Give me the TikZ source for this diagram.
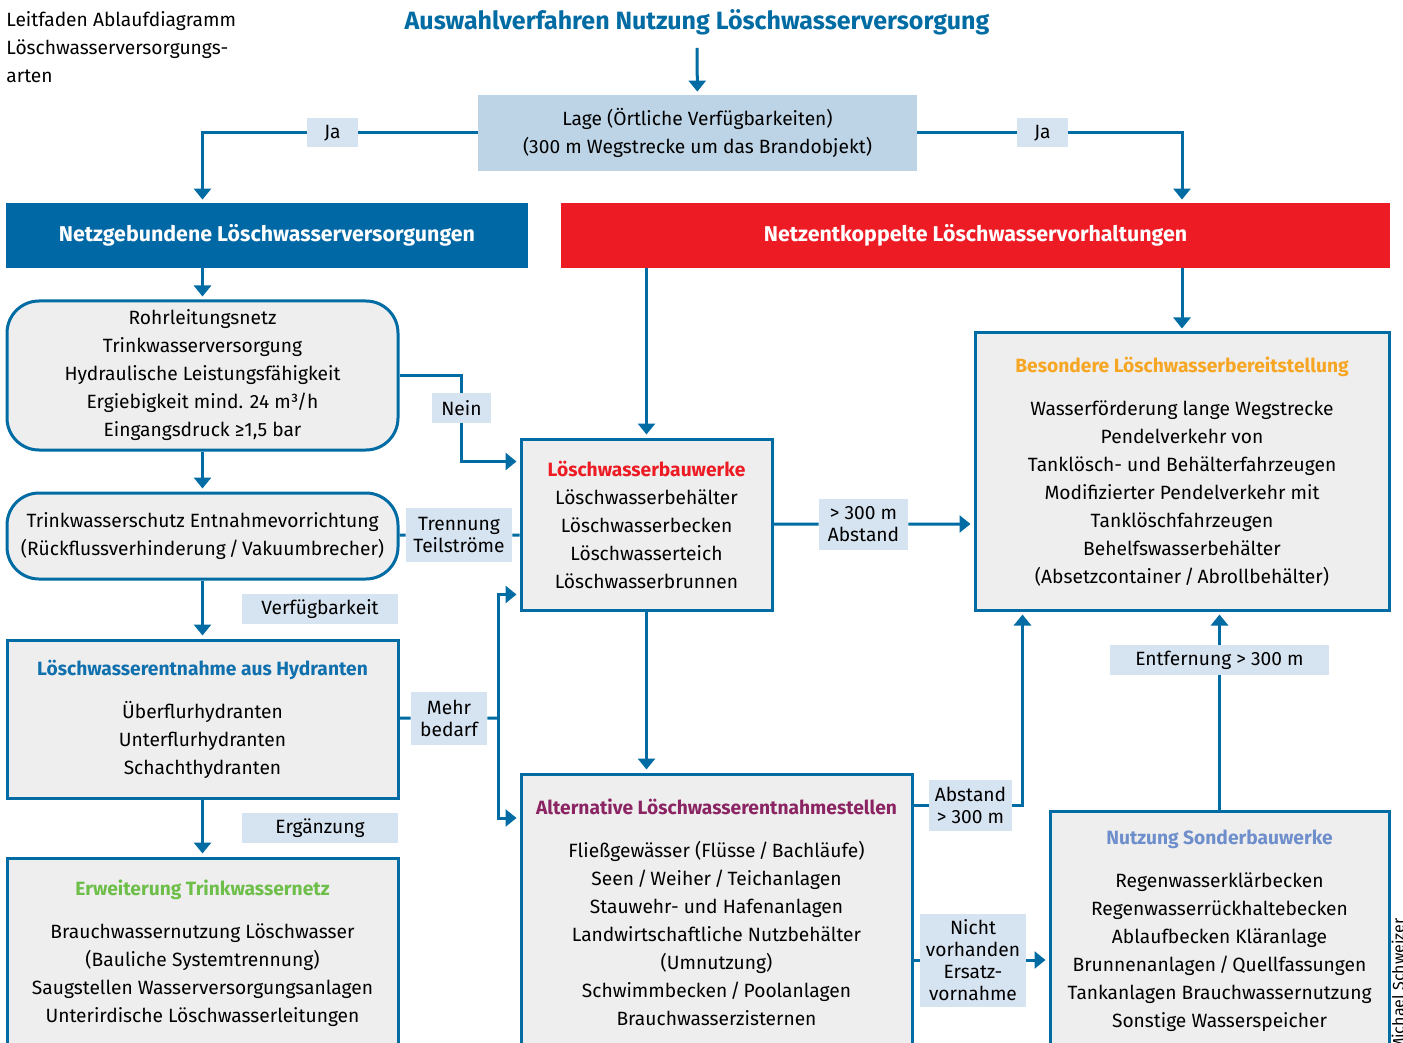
\documentclass[tikz,border=0pt]{standalone}
\usepackage{fontspec}
\setmainfont{Fira Sans}
\usetikzlibrary{arrows.meta}

\definecolor{lineblue}{RGB}{0,108,163}
\definecolor{netzblue}{RGB}{0,104,165}
\definecolor{entkred}{RGB}{237,28,36}
\definecolor{lagefill}{RGB}{189,212,231}
\definecolor{lblfill}{RGB}{214,227,240}
\definecolor{boxfill}{RGB}{238,238,238}
\definecolor{hydrblue}{RGB}{16,112,174}
\definecolor{erwgreen}{RGB}{110,190,74}
\definecolor{besorange}{RGB}{247,166,35}
\definecolor{altpurple}{RGB}{139,36,99}
\definecolor{sondblue}{RGB}{110,143,203}

\begin{document}
\begin{tikzpicture}[x=0.5pt, y=-0.5pt,
    conn/.style={draw=lineblue, line width=1.5pt},
    arr/.style={conn, -{Triangle[width=8.5pt,length=5.5pt]}, shorten >=1.5pt},
    box/.style={draw=lineblue, line width=1.5pt, fill=boxfill, align=center, inner sep=0pt, font=\fontsize{9.6}{14}\selectfont},
    rbox/.style={box, rounded corners=16pt},
    lbl/.style={fill=lblfill, align=center, inner sep=0pt, font=\fontsize{9.6}{11}\selectfont},
    hdr/.style={text=white, align=center, inner sep=0pt, font=\bfseries\fontsize{10.7}{13}\selectfont}]
    \useasboundingbox (0,0) rectangle (1403,1043);

    \node[align=left, anchor=west, inner sep=0pt, font=\fontsize{9.6}{14}\selectfont] (note) at (6,47) {Leitfaden Ablaufdiagramm\\Löschwasserversorgungs-\\arten};
    \node[text=lineblue, font=\bfseries\fontsize{12.5}{14}\selectfont] (title) at (697,22) {Auswahlverfahren Nutzung Löschwasserversorgung};
    \node[fill=lagefill, minimum width=219.5pt, minimum height=38pt, align=center, inner sep=0pt, font=\fontsize{9.6}{14}\selectfont] (lage) at (697.5,133) {Lage (Örtliche Verfügbarkeiten)\\(300 m Wegstrecke um das Brandobjekt)};

    \node[hdr, fill=netzblue, minimum width=261pt, minimum height=32.5pt] (netz) at (267,235.5) {Netzgebundene Löschwasserversorgungen};
    \node[hdr, fill=entkred, minimum width=414.5pt, minimum height=32.5pt] (entk) at (975.5,235.5) {Netzentkoppelte Löschwasservorhaltungen};

    \node[rbox, minimum width=195.5pt, minimum height=74.5pt] (rohr) at (202.5,375.5) {Rohrleitungsnetz\\Trinkwasserversorgung\\Hydraulische Leistungsfähigkeit\\Ergiebigkeit mind. 24 m³/h\\Eingangsdruck ≥1,5 bar};
    \node[rbox, minimum width=195.5pt, minimum height=43pt] (schutz) at (202.5,536) {Trinkwasserschutz Entnahmevorrichtung\\(Rückflussverhinderung\,/\,Vakuumbrecher)};
    \node[box, minimum width=195.5pt, minimum height=79pt] (hydr) at (202.5,719) {\textcolor{hydrblue}{\bfseries Löschwasserentnahme aus Hydranten}\\[7.5pt]Überflurhydranten\\Unterflurhydranten\\Schachthydranten};
    \node[box, minimum width=195.5pt, minimum height=95.5pt] (erw) at (202.5,953.5) {\textcolor{erwgreen}{\bfseries Erweiterung Trinkwassernetz}\\[7.5pt]Brauchwassernutzung Löschwasser\\(Bauliche Systemtrennung)\\Saugstellen Wasserversorgungsanlagen\\Unterirdische Löschwasserleitungen};

    \node[box, minimum width=125.5pt, minimum height=85.5pt] (bauw) at (646.5,524.5) {\textcolor{entkred}{\bfseries Löschwasserbauwerke}\\Löschwasserbehälter\\Löschwasserbecken\\Löschwasserteich\\Löschwasserbrunnen};
    \node[box, minimum width=195.5pt, minimum height=138pt] (alt) at (716.5,912) {\textcolor{altpurple}{\bfseries Alternative Löschwasserentnahmestellen}\\[7.5pt]Fließgewässer (Flüsse\,/\,Bachläufe)\\Seen\,/\,Weiher\,/\,Teichanlagen\\Stauwehr- und Hafenanlagen\\Landwirtschaftliche Nutzbehälter\\(Umnutzung)\\Schwimmbecken\,/\,Poolanlagen\\Brauchwasserzisternen};
    \node[box, minimum width=207pt, minimum height=138.5pt] (bes) at (1182,471.5) {\textcolor{besorange}{\bfseries Besondere Löschwasserbereitstellung}\\[7.5pt]Wasserförderung lange Wegstrecke\\Pendelverkehr von\\Tanklösch- und Behälterfahrzeugen\\Modifizierter Pendelverkehr mit\\Tanklöschfahrzeugen\\Behelfswasserbehälter\\(Absetzcontainer\,/\,Abrollbehälter)};
    \node[box, minimum width=169.5pt, minimum height=119.5pt] (sond) at (1219.5,930.5) {\textcolor{sondblue}{\bfseries Nutzung Sonderbauwerke}\\[7.5pt]Regenwasserklärbecken\\Regenwasserrückhaltebecken\\Ablaufbecken Kläranlage\\Brunnenanlagen\,/\,Quellfassungen\\Tankanlagen Brauchwassernutzung\\Sonstige Wasserspeicher};

    \node[lbl, minimum width=25.5pt, minimum height=14.5pt] (ja1) at (332.5,133) {Ja};
    \node[lbl, minimum width=25.5pt, minimum height=14.5pt] (ja2) at (1042.5,133) {Ja};
    \node[lbl, minimum width=29.5pt, minimum height=15pt] (nein) at (461.5,408) {Nein};
    \node[lbl, minimum width=53pt, minimum height=27pt] (trenn) at (459,535) {Trennung\\Teilströme};
    \node[lbl, minimum width=78pt, minimum height=15pt] (verf) at (320,609) {Verfügbarkeit};
    \node[lbl, minimum width=38pt, minimum height=26.5pt] (mehr) at (449,718) {Mehr\\bedarf};
    \node[lbl, minimum width=78pt, minimum height=15pt] (ergz) at (320,828) {Ergänzung};
    \node[lbl, minimum width=44.5pt, minimum height=25.5pt] (abst1) at (863.5,524) {> 300 m\\Abstand};
    \node[lbl, minimum width=41.5pt, minimum height=25.5pt] (abst2) at (970.5,805) {Abstand\\> 300 m};
    \node[lbl, minimum width=53pt, minimum height=46.5pt] (nicht) at (973,960) {Nicht\\vorhanden\\Ersatz-\\vornahme};
    \node[lbl, minimum width=109.5pt, minimum height=15pt] (entf) at (1219.5,660) {Entfernung > 300 m};
    \coordinate (split) at (498,718);
    \node[rotate=90, anchor=east, inner sep=0pt, font=\fontsize{8}{9}\selectfont] (sign) at (1398,918) {Michael Schweizer};

    \draw[arr, shorten <=3pt] (title) -- (lage);
    \draw[arr] (lage) -- (ja1) -| (netz.north -| rohr);
    \draw[arr] (lage) -- (ja2) -| (entk.north -| bes);
    \draw[arr] (netz.south -| rohr) -- (rohr);
    \draw[arr] (rohr) -- (schutz);
    \draw[arr] (schutz) -- (hydr);
    \draw[arr] (hydr) -- (erw);
    \draw[arr] (entk.south -| bauw) -- (bauw);
    \draw[arr] (entk.south -| bes) -- (bes);
    \draw[arr] (rohr.east) -| (nein) |- ([yshift=31.5pt]bauw.west);
    \draw[conn] (schutz) -- (trenn) -- (bauw.west |- trenn);
    \draw[conn] (hydr) -- (mehr) -- (split);
    \draw[arr] (split) |- ([yshift=-35pt]bauw.west);
    \draw[arr] (split) |- ([yshift=47pt]alt.west);
    \draw[arr] (bauw) -- (abst1) -- (bes.west |- abst1);
    \draw[arr] (bauw) -- (alt.north -| bauw);
    \draw[arr] (alt.east |- abst2) -- (abst2) -| ([xshift=24.5pt]bes.south west);
    \draw[arr] (alt.east |- nicht) -- (nicht) -- (sond.west |- nicht);
    \draw[arr] (sond) -- (entf) -- (entf |- bes.south);
\end{tikzpicture}
\end{document}
